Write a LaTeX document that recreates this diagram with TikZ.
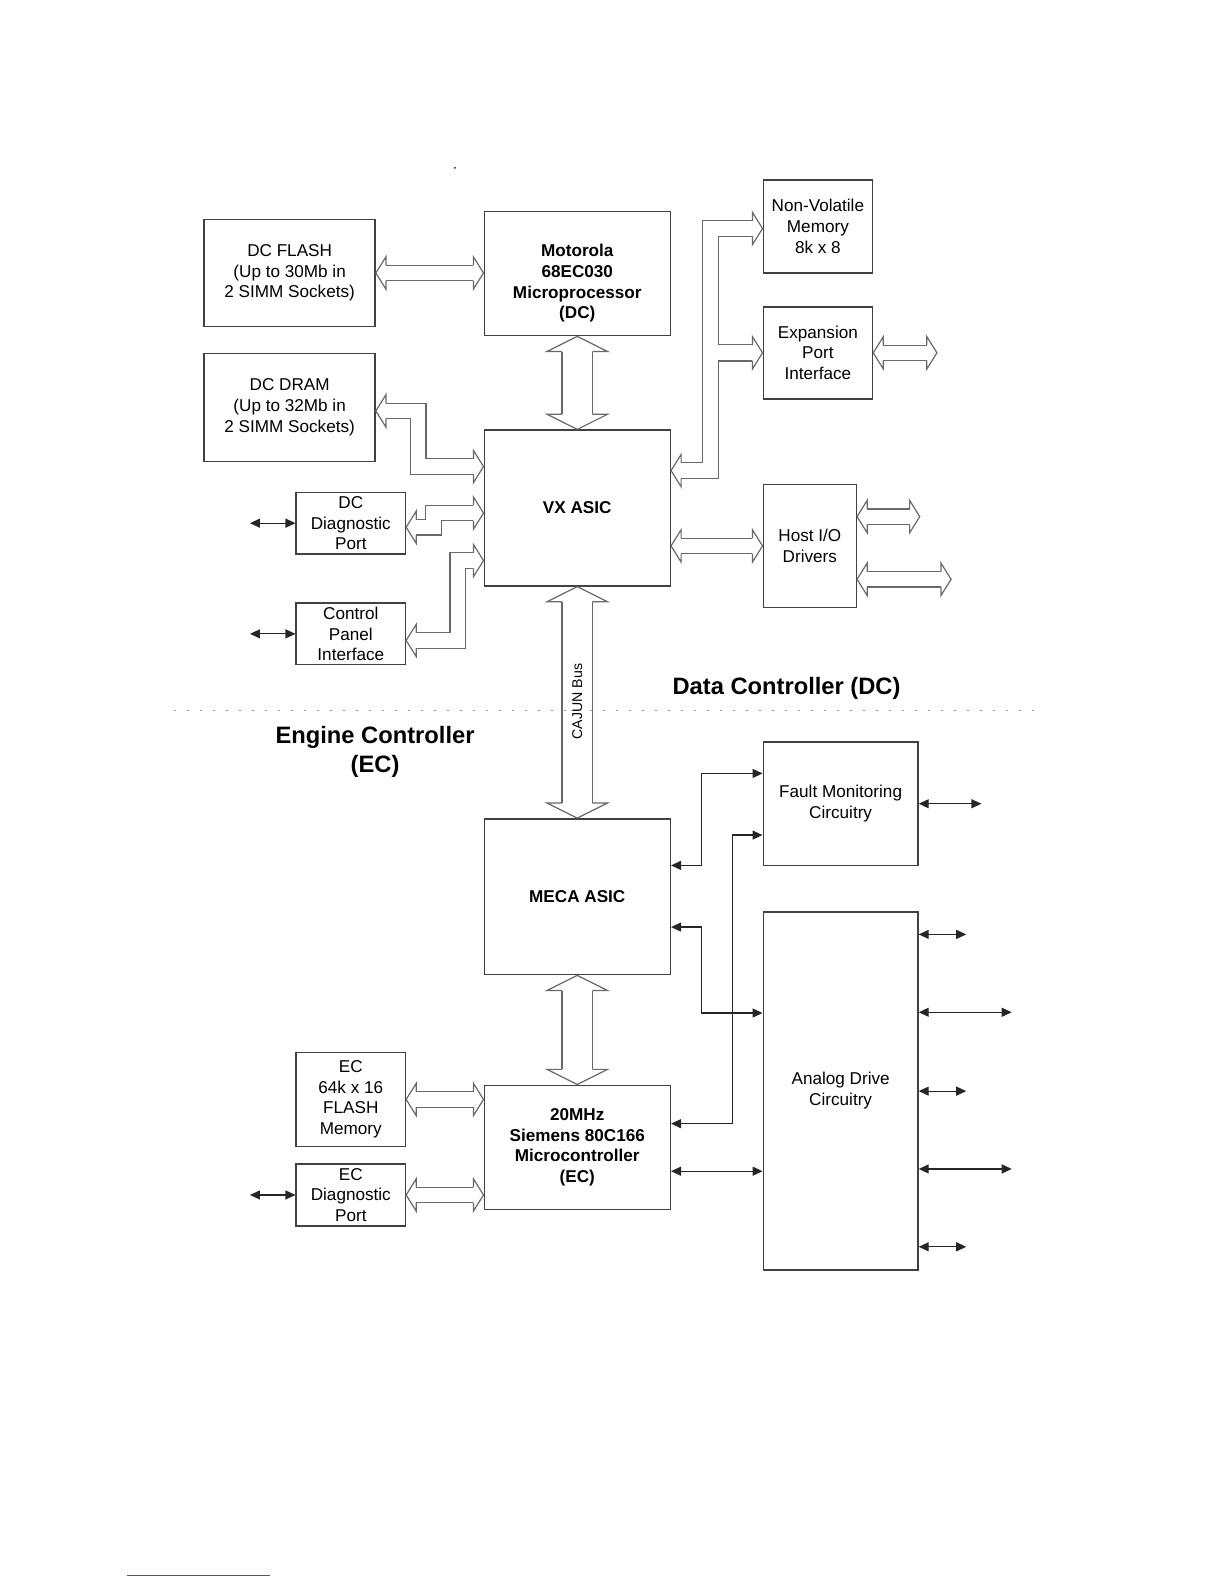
\documentclass[tikz,border=0pt]{standalone}
\usepackage{fontspec}
\setmainfont{Liberation Sans}
\usepackage{tikz}
\usetikzlibrary{arrows.meta,calc,positioning}

\definecolor{boxline}{RGB}{65,65,65}
\definecolor{busline}{RGB}{105,105,105}
\definecolor{rulecol}{RGB}{60,80,200}

\newdimen\pxu
\pxu=0.5055bp

\newcommand{\busend}[2]{\draw[bushead, shift={(#1)}, rotate=#2] (-10,-7.6) -- (-10,-16) -- (0,0) -- (-10,16) -- (-10,7.6);}
\newcommand{\bigbusend}[2]{\draw[bushead, shift={(#1)}, rotate=#2] (-15,-15) -- (-15,-30) -- (0,0) -- (-15,30) -- (-15,15);}

\begin{document}
\begin{tikzpicture}[x=\pxu, y=-\pxu,
    blk/.style={draw=boxline, line width=0.75bp, inner sep=0pt, align=center, font=\fontsize{8.6}{10.36}\selectfont},
    bblk/.style={blk, font=\fontsize{8.6}{10.36}\selectfont\bfseries},
    bus/.style={draw=busline, line width=0.6bp, double=white, double distance=7.1bp},
    bigbus/.style={draw=busline, line width=0.6bp, double=white, double distance=14.6bp},
    bushead/.style={draw=busline, line width=0.6bp, line join=miter},
    sigtip/.tip={Triangle[length=5bp,width=4.5bp]},
    sig/.style={draw=black!85, line width=0.6bp, sigtip-sigtip},
    divider/.style={draw=black!40, line width=0.5bp, dash pattern=on 1bp off 5.5bp},
    biglbl/.style={font=\fontsize{11.9}{14.65}\selectfont\bfseries, align=center}]
\useasboundingbox (0,0) rectangle (1210.7,1566.8);

\node[blk, minimum width=169\pxu, minimum height=106\pxu] (flash) at (286.5,270) {DC FLASH\\(Up to 30Mb in\\2 SIMM Sockets)};
\node[blk, minimum width=169\pxu, minimum height=107\pxu] (dram) [below=25\pxu of flash] {DC DRAM\\(Up to 32Mb in\\2 SIMM Sockets)};
\node[bblk, minimum width=184\pxu, minimum height=123\pxu] (cpu) at (571,270.5) {\rule{0pt}{16bp}Motorola\\68EC030\\Microprocessor\\(DC)};
\node[bblk, minimum width=184\pxu, minimum height=154\pxu] (vx) [below=92\pxu of cpu] {VX ASIC};
\node[blk, minimum width=108\pxu, minimum height=61\pxu] (dcdiag) at (347,517.5) {DC\\Diagnostic\\Port};
\node[blk, minimum width=108\pxu, minimum height=61\pxu] (panel) [below=47\pxu of dcdiag] {Control\\Panel\\Interface};
\node[blk, minimum width=108\pxu, minimum height=92\pxu] (nvm) at (809,224) {Non-Volatile\\Memory\\8k x 8};
\node[blk, minimum width=108\pxu, minimum height=91\pxu] (expn) [below=32\pxu of nvm] {Expansion\\Port\\Interface};
\node[blk, minimum width=92\pxu, minimum height=122\pxu] (host) at (801,540) {Host I/O\\Drivers};
\node[blk, minimum width=153\pxu, minimum height=122\pxu] (fault) at (831.5,795) {Fault Monitoring\\Circuitry};
\node[bblk, minimum width=184\pxu, minimum height=154\pxu] (meca) at (571,887) {MECA ASIC};
\node[bblk, minimum width=184\pxu, minimum height=123\pxu] (mcu) [below=108\pxu of meca] {20MHz\\Siemens 80C166\\Microcontroller\\(EC)};
\node[blk, minimum width=153\pxu, minimum height=354\pxu] (analog) at (831.5,1079) {Analog Drive\\Circuitry};
\node[blk, minimum width=108\pxu, minimum height=93\pxu] (ecflash) at (347,1087.5) {EC\\64k x 16\\FLASH\\Memory};
\node[blk, minimum width=108\pxu, minimum height=61\pxu] (ecdiag) [below=16\pxu of ecflash] {EC\\Diagnostic\\Port};

\coordinate (fl-a) at (flash.east);
\coordinate (cpu-a) at (cpu.west |- flash.east);
\coordinate (vx-e) at (vx.east |- host.west);
\coordinate (ef-a) at (ecflash.east);
\coordinate (mc-c) at (mcu.west |- ecflash.east);
\coordinate (ed-a) at (ecdiag.east);
\coordinate (mc-d) at (mcu.west |- ecdiag.east);
\coordinate (ex-o) at ($(expn.east)+(63,0)$);
\coordinate (ho-a) at ($(host.east)+(0,-29)$);
\coordinate (ho-b) at ($(host.east)+(0,33)$);
\coordinate (ho-x) at ($(ho-a)+(62,0)$);
\coordinate (ho-y) at ($(ho-b)+(93,0)$);

\foreach \a/\b in {fl-a/cpu-a, vx-e/host.west, ef-a/mc-c, ed-a/mc-d, expn.east/ex-o, ho-a/ho-x, ho-b/ho-y}{
  \draw[bus] ($(\a)+(10,0)$) -- ($(\b)+(-10,0)$);
  \busend{\a}{180}
  \busend{\b}{0}
}

\foreach \a/\b in {cpu/vx, vx/meca, meca/mcu}{
  \draw[bigbus] ($(\a.south)+(0,15)$) -- ($(\b.north)+(0,-15)$);
  \bigbusend{\a.south}{90}
  \bigbusend{\b.north}{-90}
}

\coordinate (dr-a) at ($(dram.east)+(0,3.5)$);
\coordinate (vx-a) at ($(vx.west)+(0,-41)$);
\draw[bus] ($(dr-a)+(10,0)$) -- ++(32,0) |- ($(vx-a)+(-10,0)$);
\busend{dr-a}{180}
\busend{vx-a}{0}

\coordinate (dd-a) at ($(dcdiag.east)+(0,4)$);
\coordinate (vx-b) at ($(vx.west)+(0,5)$);
\draw[bus] ($(dd-a)+(10,0)$) -- ++(17,0) |- ($(vx-b)+(-10,0)$);
\busend{dd-a}{180}
\busend{vx-b}{0}

\coordinate (pn-a) at ($(panel.east)+(0,6.5)$);
\coordinate (vx-c) at ($(vx.west)+(0,52)$);
\draw[bus] ($(pn-a)+(10,0)$) -- ++(41,0) |- ($(vx-c)+(-10,0)$);
\busend{pn-a}{180}
\busend{vx-c}{0}

\coordinate (nv-a) at ($(nvm.west)+(0,2)$);
\coordinate (ex-a) at (expn.west);
\coordinate (vx-d) at ($(vx.east)+(0,-37)$);
\coordinate (tb) at ($(vx-d)+(39,0)$);
\draw[bushead] ($(nv-a)+(-10,-8)$) -| ($(tb)+(-8,-8)$) -- ($(vx-d)+(10,-8)$);
\draw[bushead] ($(nv-a)+(-10,8)$) -| ($(tb |- ex-a)+(8,-8)$) -- ($(ex-a)+(-10,-8)$);
\draw[bushead] ($(ex-a)+(-10,8)$) -| ($(tb)+(8,8)$) -- ($(vx-d)+(10,8)$);
\busend{nv-a}{0}
\busend{ex-a}{0}
\busend{vx-d}{180}

\foreach \n in {dcdiag, panel, ecdiag}{
  \coordinate (\n-x) at ($(\n.west)+(-45,0)$);
  \draw[sig] (\n.west) -- (\n-x);
}
\coordinate (fault-x) at ($(fault.east)+(62,0)$);
\draw[sig] (fault.east) -- (fault-x);
\foreach \dy/\len [count=\i] in {23/47, 100/92, 178/47, 255/92, 332/47}{
  \coordinate (an-o\i) at ($(analog.north east)+(0,\dy)$);
  \coordinate (an-x\i) at ($(an-o\i)+(\len,0)$);
  \draw[sig] (an-o\i) -- (an-x\i);
}

\coordinate (me-a) at ($(meca.east)+(0,-31)$);
\coordinate (fa-a) at ($(fault.west)+(0,-30)$);
\draw[sig] (me-a) -- ++(30,0) |- (fa-a);
\coordinate (me-b) at ($(meca.east)+(0,30)$);
\coordinate (an-a) at ($(analog.west)+(0,-77)$);
\draw[sig] (me-b) -- ++(30,0) |- (an-a);
\coordinate (mc-a) at ($(mcu.east)+(0,-23.5)$);
\coordinate (fa-b) at ($(fault.west)+(0,31)$);
\draw[sig] (mc-a) -- ++(61,0) |- (fa-b);
\coordinate (mc-b) at ($(mcu.east)+(0,23.5)$);
\draw[sig] (mc-b) -- (analog.west |- mc-b);

\draw[divider] (172,703) -- (1025,703);
\node[font=\fontsize{7.1}{8}\selectfont, rotate=90] (cajun) at (571,694) {CAJUN Bus};
\node[biglbl] (dclbl) at (778,681) {Data Controller (DC)};
\node[biglbl] (eclbl) at (371,743.5) {Engine Controller\\(EC)};

\fill[black!70] (450,166) circle (0.6bp);
\draw[rulecol, line width=0.5bp] (126,1558) -- (267,1558);
\end{tikzpicture}
\end{document}
